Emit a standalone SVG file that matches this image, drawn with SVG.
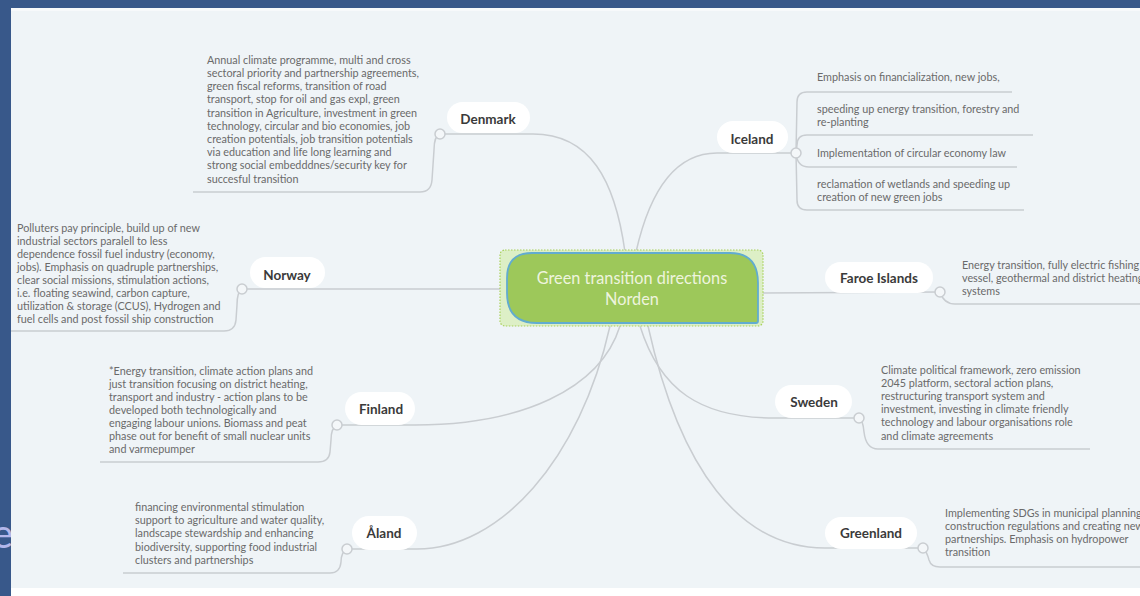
<svg xmlns="http://www.w3.org/2000/svg" width="1140" height="596" viewBox="0 0 1140 596">
<style>
.bg{fill:#38588a}
.panel{fill:#eff4f7}
.con{fill:none;stroke:#c9cdd1;stroke-width:1.5}
.pill{fill:#ffffff}
.dot{fill:#f4f7f9;stroke:#c9cdd1;stroke-width:1.5}
.lbl{font-family:Lato,"Open Sans",sans-serif;font-size:13.5px;font-weight:bold;fill:#3a3a3a;text-anchor:middle}
.txt{font-family:Lato,"Open Sans",sans-serif;font-size:10.8px;fill:#6a6a6a}
.ctr{font-family:Lato,"Open Sans",sans-serif;font-size:16.3px;fill:#eef4de;text-anchor:middle}
</style>
<rect class="bg" x="0" y="0" width="1140" height="596"/>
<text x="-8" y="548" font-family="Lato,sans-serif" font-size="40" fill="#b3b7ea">e</text>
<rect class="panel" x="11" y="8" width="1129" height="580"/>
<rect x="11" y="8" width="1129" height="3" fill="#f7f9fb"/>
<rect x="11" y="588" width="1129" height="8" fill="#ffffff"/>

<g id="connectors">
<path class="con" d="M625,252 C615,180 590,134 533,134 L440,134"/>
<path class="con" d="M440,134 Q434,136 434,150 L432,180 Q431,192 420,192 L193,192"/>
<path class="con" d="M636,252 C650,190 675,153 717,153 L796,153"/>
<path class="con" d="M796,153 L797,102 Q797,92 807,92 L1012,92"/>
<path class="con" d="M796,153 L797,145 Q797,135 807,135 L1033,135"/>
<path class="con" d="M796,153 Q797,167 809,167 L1017,167"/>
<path class="con" d="M796,153 L797,200 Q797,210 807,210 L1024,210"/>
<path class="con" d="M500,289 L242,289"/>
<path class="con" d="M242,289 Q237,292 237,305 L236,320 Q235,331 224,331 L11,331"/>
<path class="con" d="M620,326 C600,390 520,425 415,425 L337,425"/>
<path class="con" d="M337,425 Q331,428 331,440 L330,452 Q329,462 318,462 L100,462"/>
<path class="con" d="M610,326 C580,460 500,549 417,549 L347,549"/>
<path class="con" d="M347,549 Q341,552 341,562 Q340,573 330,573 L123,573"/>
<path class="con" d="M763,293 L940,292"/>
<path class="con" d="M940,292 Q944,304 955,304 L1140,304"/>
<path class="con" d="M640,326 C660,390 700,418 775,418 L859,418"/>
<path class="con" d="M859,418 Q863,420 864,432 Q866,449 878,449 L1090,449"/>
<path class="con" d="M648,326 C680,470 740,548 825,548 L923,548"/>
<path class="con" d="M923,548 Q927,552 929,560 Q931,567 940,567 L1140,567"/>
</g>

<g id="center">
<rect x="500" y="250" width="263" height="76" rx="5" fill="#ddefc6" stroke="#a8d05a" stroke-width="1.2" stroke-dasharray="1.5,1.5"/>
<path d="M532,253 L730,253 Q758,253 758,283 L758,321 Q758,323 756,323 L537,323 Q507,323 507,293 L507,278 Q507,253 532,253 Z" fill="#9dc85a" stroke="#62acd0" stroke-width="1.8"/>
<text class="ctr" x="632" y="284">Green transition directions</text>
<text class="ctr" x="632" y="305">Norden</text>
</g>

<g id="denmark">
<rect class="pill" x="447" y="102" width="83" height="31" rx="15.5"/>
<text class="lbl" x="488" y="124">Denmark</text>
<circle class="dot" cx="440" cy="134" r="5"/>
<text class="txt" x="207" y="63.8"><tspan x="207">Annual climate programme, multi and cross</tspan><tspan x="207" dy="13.2">sectoral priority and partnership agreements,</tspan><tspan x="207" dy="13.2">green fiscal reforms, transition of road</tspan><tspan x="207" dy="13.2">transport, stop for oil and gas expl, green</tspan><tspan x="207" dy="13.2">transition in Agriculture, investment in green</tspan><tspan x="207" dy="13.2">technology, circular and bio economies, job</tspan><tspan x="207" dy="13.2">creation potentials, job transition potentials</tspan><tspan x="207" dy="13.2">via education and life long learning and</tspan><tspan x="207" dy="13.2">strong social embedddnes/security key for</tspan><tspan x="207" dy="13.2">succesful transition</tspan></text>
</g>

<g id="iceland">
<rect class="pill" x="717" y="121" width="71" height="32" rx="16"/>
<text class="lbl" x="752" y="144">Iceland</text>
<circle class="dot" cx="796" cy="153" r="5"/>
<text class="txt" x="817" y="80.5">Emphasis on financialization, new jobs,</text>
<text class="txt" x="817" y="112.5"><tspan x="817">speeding up energy transition, forestry and</tspan><tspan x="817" dy="13">re-planting</tspan></text>
<text class="txt" x="817" y="156.5">Implementation of circular economy law</text>
<text class="txt" x="817" y="187.5"><tspan x="817">reclamation of wetlands and speeding up</tspan><tspan x="817" dy="13">creation of new green jobs</tspan></text>
</g>

<g id="norway">
<rect class="pill" x="250" y="257" width="75" height="31" rx="15.5"/>
<text class="lbl" x="287" y="279.5">Norway</text>
<circle class="dot" cx="242" cy="289" r="5"/>
<text class="txt" x="17" y="231.5"><tspan x="17">Polluters pay principle, build up of new</tspan><tspan x="17" dy="13">industrial sectors paralell to less</tspan><tspan x="17" dy="13">dependence fossil fuel industry (economy,</tspan><tspan x="17" dy="13">jobs). Emphasis on quadruple partnerships,</tspan><tspan x="17" dy="13">clear social missions, stimulation actions,</tspan><tspan x="17" dy="13">i.e. floating seawind, carbon capture,</tspan><tspan x="17" dy="13">utilization &amp; storage (CCUS), Hydrogen and</tspan><tspan x="17" dy="13">fuel cells and post fossil ship construction</tspan></text>
</g>

<g id="faroe">
<rect class="pill" x="825" y="262" width="108" height="31" rx="15.5"/>
<text class="lbl" x="879" y="283">Faroe Islands</text>
<circle class="dot" cx="940" cy="292" r="5"/>
<text class="txt" x="962" y="268.5"><tspan x="962">Energy transition, fully electric fishing</tspan><tspan x="962" dy="13.3">vessel, geothermal and district heating</tspan><tspan x="962" dy="13.3">systems</tspan></text>
</g>

<g id="finland">
<rect class="pill" x="345" y="392" width="70" height="33" rx="16.5"/>
<text class="lbl" x="381" y="414">Finland</text>
<circle class="dot" cx="337" cy="425" r="5"/>
<text class="txt" x="109" y="374.5"><tspan x="109">*Energy transition, climate action plans and</tspan><tspan x="109" dy="13">just transition focusing on district heating,</tspan><tspan x="109" dy="13">transport and industry - action plans to be</tspan><tspan x="109" dy="13">developed both technologically and</tspan><tspan x="109" dy="13">engaging labour unions. Biomass and peat</tspan><tspan x="109" dy="13">phase out for benefit of small nuclear units</tspan><tspan x="109" dy="13">and varmepumper</tspan></text>
</g>

<g id="sweden">
<rect class="pill" x="775" y="385" width="77" height="33" rx="16.5"/>
<text class="lbl" x="814" y="407">Sweden</text>
<circle class="dot" cx="859" cy="418" r="5"/>
<text class="txt" x="881" y="373.5"><tspan x="881">Climate political framework, zero emission</tspan><tspan x="881" dy="13.2">2045 platform, sectoral action plans,</tspan><tspan x="881" dy="13.2">restructuring transport system and</tspan><tspan x="881" dy="13.2">investment, investing in climate friendly</tspan><tspan x="881" dy="13.2">technology and labour organisations role</tspan><tspan x="881" dy="13.2">and climate agreements</tspan></text>
</g>

<g id="aland">
<rect class="pill" x="352" y="516" width="65" height="34" rx="17"/>
<text class="lbl" x="384" y="538">Åland</text>
<circle class="dot" cx="347" cy="549" r="5"/>
<text class="txt" x="135" y="510.5"><tspan x="135">financing environmental stimulation</tspan><tspan x="135" dy="13.4">support to agriculture and water quality,</tspan><tspan x="135" dy="13.4">landscape stewardship and enhancing</tspan><tspan x="135" dy="13.4">biodiversity, supporting food industrial</tspan><tspan x="135" dy="13.4">clusters and partnerships</tspan></text>
</g>

<g id="greenland">
<rect class="pill" x="825" y="517" width="92" height="32" rx="16"/>
<text class="lbl" x="871" y="538">Greenland</text>
<circle class="dot" cx="923" cy="548" r="5"/>
<text class="txt" x="945" y="516.5"><tspan x="945">Implementing SDGs in municipal planning,</tspan><tspan x="945" dy="13.3">construction regulations and creating new</tspan><tspan x="945" dy="13.3">partnerships. Emphasis on hydropower</tspan><tspan x="945" dy="13.3">transition</tspan></text>
</g>
</svg>
